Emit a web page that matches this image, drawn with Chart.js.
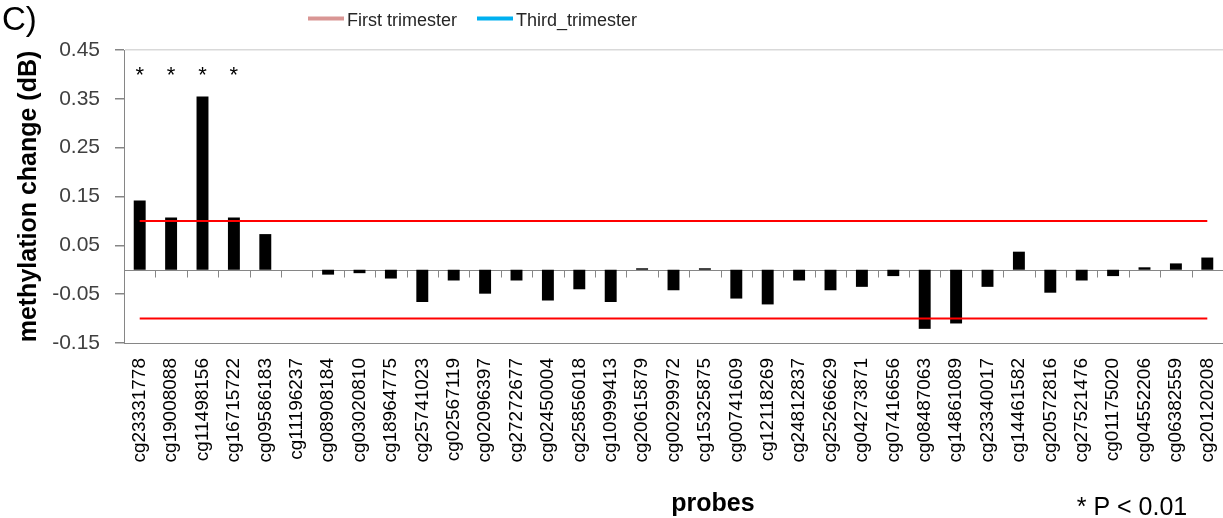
<!DOCTYPE html>
<html>
<head>
<meta charset="utf-8">
<script src="https://cdn.jsdelivr.net/npm/chart.js@4"></script>
<style>
  body { margin: 0; background: #fff; }
  #wrap { width: 1223px; height: 518px; }
</style>
</head>
<body>
<div id="wrap"><canvas id="probeChart"></canvas></div>
<script>
// probes on the x axis
const categories = [
  'cg23331778', 'cg19008088', 'cg11498156', 'cg16715722', 'cg09586183', 'cg11196237',
  'cg08908184', 'cg03020810', 'cg18964775', 'cg25741023', 'cg02567119', 'cg02096397',
  'cg27272677', 'cg02450004', 'cg25856018', 'cg10999413', 'cg20615879', 'cg00299972',
  'cg15325875', 'cg00741609', 'cg12118269', 'cg24812837', 'cg25266629', 'cg04273871',
  'cg07416656', 'cg08487063', 'cg14861089', 'cg23340017', 'cg14461582', 'cg20572816',
  'cg27521476', 'cg01175020', 'cg04552206', 'cg06382559', 'cg20120208'
];

// methylation change (dB)
const methylationChange = [
  0.142, 0.107, 0.355, 0.107, 0.073, 0.000,
  -0.010, -0.007, -0.018, -0.066, -0.022, -0.049,
  -0.022, -0.063, -0.040, -0.066, 0.003, -0.042,
  0.003, -0.059, -0.071, -0.022, -0.042, -0.035,
  -0.013, -0.121, -0.110, -0.035, 0.037, -0.047,
  -0.022, -0.013, 0.005, 0.013, 0.025
];

const significant = ['cg23331778', 'cg19008088', 'cg11498156', 'cg16715722'];
const upperLimit = 0.1;
const lowerLimit = -0.1;
const starLevel = 0.385;

const yTicks = [-0.15, -0.05, 0.05, 0.15, 0.25, 0.35, 0.45];
const yTickLabels = ['-0.15', '-0.05', '0.05', '0.15', '0.25', '0.35', '0.45'];

const legendLabels = ['First trimester', 'Third_trimester'];
const legendColors = ['#d99694', '#00b0f0'];

Chart.defaults.font.family = '"Liberation Sans", Arial, sans-serif';

const firstCat = categories[0];
const lastCat = categories[categories.length - 1];

// zero line with category tick marks (Excel style axis crossing at 0)
const zeroAxis = {
  id: 'zeroAxis',
  beforeDatasetsDraw(chart) {
    const { ctx, chartArea, scales: { x, y } } = chart;
    const y0 = Math.round(y.getPixelForValue(0)) + 0.5;
    ctx.save();
    ctx.strokeStyle = '#868686';
    ctx.lineWidth = 1;
    ctx.beginPath();
    ctx.moveTo(chartArea.left, y0);
    ctx.lineTo(chartArea.right, y0);
    for (let i = 1; i < categories.length; i++) {
      const bx = Math.round((x.getPixelForValue(i - 1) + x.getPixelForValue(i)) / 2) + 0.5;
      ctx.moveTo(bx, y0);
      ctx.lineTo(bx, y0 + 7);
    }
    ctx.stroke();
    ctx.restore();
  }
};

// extra text: panel letter, legend, stars, axis caption, p-value note
const annotations = {
  id: 'annotations',
  afterDraw(chart) {
    const { ctx, scales: { x, y } } = chart;
    ctx.save();
    ctx.fillStyle = '#000';
    ctx.textBaseline = 'alphabetic';

    ctx.font = '33px "Liberation Sans"';
    ctx.textAlign = 'left';
    ctx.fillText('C)', 2, 30);

    // legend
    ctx.font = '18px "Liberation Sans"';
    let lx = 308;
    legendLabels.forEach((label, i) => {
      ctx.fillStyle = legendColors[i];
      ctx.fillRect(lx, 16.5, 36, 4);
      ctx.fillStyle = '#262626';
      ctx.fillText(label, lx + 39, 26);
      lx += 39 + ctx.measureText(label).width + 20;
    });

    // significance stars
    ctx.fillStyle = '#000';
    ctx.font = '22px "Liberation Sans"';
    ctx.textAlign = 'center';
    significant.forEach(c => {
      ctx.fillText('*', x.getPixelForValue(categories.indexOf(c)), y.getPixelForValue(starLevel));
    });

    ctx.font = 'bold 25px "Liberation Sans"';
    ctx.fillText('probes', 713, 511);

    ctx.font = '25px "Liberation Sans"';
    ctx.fillText('* P < 0.01', 1132, 515);
    ctx.restore();
  }
};

const ctx = document.getElementById('probeChart').getContext('2d');

new Chart(ctx, {
  type: 'bar',
  data: {
    labels: categories,
    datasets: [
      {
        type: 'line',
        data: [{ x: firstCat, y: upperLimit }, { x: lastCat, y: upperLimit }],
        borderColor: '#ff0000',
        borderWidth: 2,
        pointRadius: 0,
        fill: false,
        order: 0
      },
      {
        type: 'line',
        data: [{ x: firstCat, y: lowerLimit }, { x: lastCat, y: lowerLimit }],
        borderColor: '#ff0000',
        borderWidth: 2,
        pointRadius: 0,
        fill: false,
        order: 0
      },
      {
        label: 'methylation change',
        data: methylationChange,
        backgroundColor: '#000',
        borderColor: '#000',
        borderWidth: 0,
        categoryPercentage: 1,
        barPercentage: 0.38,
        order: 1
      }
    ]
  },
  options: {
    responsive: true,
    maintainAspectRatio: false,
    animation: false,
    layout: { padding: { top: 50, right: 0, left: 0, bottom: 0 } },
    scales: {
      x: {
        offset: true,
        grid: { drawOnChartArea: false, drawTicks: false, color: 'rgba(0,0,0,0)' },
        border: { color: '#868686' },
        ticks: {
          autoSkip: false,
          minRotation: 90,
          maxRotation: 90,
          padding: 15,
          color: '#000',
          font: { size: 19 }
        },
        afterFit: s => {
          s.height = 175;
          s.paddingLeft = 0;
          s.paddingRight = 0;
        }
      },
      y: {
        min: -0.15,
        max: 0.45,
        afterBuildTicks: s => { s.ticks = yTicks.map(v => ({ value: v })); },
        afterFit: s => { s.width = 124; },
        border: { color: '#868686' },
        grid: {
          color: c => (c.tick && c.tick.value === 0.45 ? '#d9d9d9' : 'rgba(0,0,0,0)'),
          tickColor: '#868686',
          tickLength: 9,
          lineWidth: 1.5
        },
        ticks: {
          padding: 15,
          color: '#404040',
          font: { size: 21 },
          callback: (v, i) => yTickLabels[i]
        },
        title: {
          display: true,
          text: 'methylation change (dB)',
          color: '#000',
          font: { size: 25, weight: 'bold' },
          padding: { top: 14, bottom: 0 }
        }
      }
    },
    plugins: {
      legend: { display: false },
      tooltip: { enabled: false }
    }
  },
  plugins: [zeroAxis, annotations]
});
</script>
</body>
</html>
